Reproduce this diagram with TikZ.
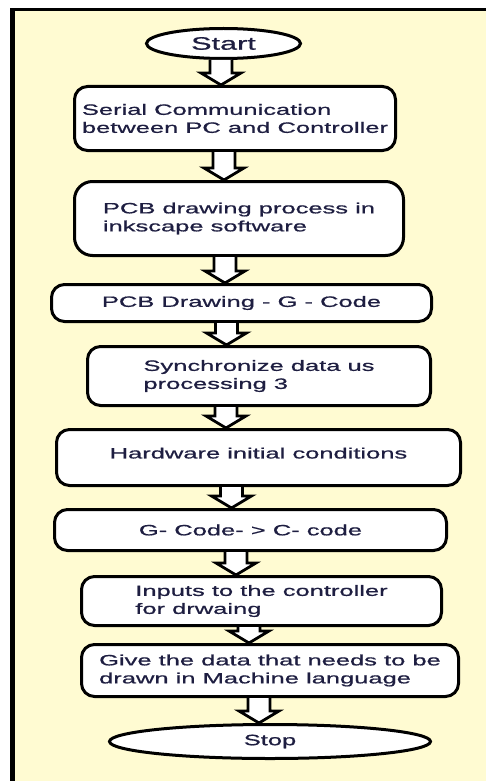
\documentclass[tikz,border=0pt]{standalone}
\usepackage{fontspec}
\setmainfont{Liberation Sans}
\newfontfamily\chartfont[FakeStretch=1.7,FakeBold=0.8]{Liberation Sans}
\usetikzlibrary{positioning,calc,shapes.geometric}
\definecolor{chartbg}{RGB}{255,251,210}
\definecolor{chartink}{RGB}{30,30,65}

\begin{document}
\begin{tikzpicture}[x=1pt,y=-1pt,
    box/.style={draw,fill=white,line width=3pt,rounded corners=13pt,inner sep=0pt,
        font=\chartfont\fontsize{15}{18}\selectfont,text=chartink,align=left},
    term/.style={box,ellipse,rounded corners=0pt},
    flow/.style={draw,fill=white,line width=2.8pt,line join=miter,
        to path={let \p1=(\tikztostart), \p2=(\tikztotarget) in
            (\x1-11pt,\y1) -- (\x1-11pt,\y2+12pt) -- (\x1-20pt,\y2+12pt) -- (\x1,\y2)
            -- (\x1+20pt,\y2+12pt) -- (\x1+11pt,\y2+12pt) -- (\x1+11pt,\y1)}}]
    \useasboundingbox (0,0) rectangle (486,781);
    % yellow sheet with its black edges
    \fill[chartbg] (15,11) rectangle (486,781);
    \fill (10,8) rectangle (15,781);
    \fill (10,8) rectangle (486,11);

    \node (start) [term,minimum width=154pt,minimum height=30pt,
        font=\chartfont\fontsize{18}{20}\selectfont] at (223.5,43.5) {Start};
    \node (serial) [box,below=25pt of start,xshift=11.5pt,minimum width=321pt,
        minimum height=64pt] {Serial Communication\\between PC and Controller};
    \node (inkscape) [box,below=28pt of serial,xshift=4pt,minimum width=329pt,
        minimum height=74pt,rounded corners=18pt] {PCB drawing process in\\inkscape software};
    \node (gcode) [box,below=26pt of inkscape,xshift=2.5pt,minimum width=380pt,
        minimum height=37pt] {PCB Drawing - G - Code};
    \node (sync) [box,below=22pt of gcode,xshift=17.5pt,minimum width=343pt,
        minimum height=59pt] {Synchronize data us\\processing 3};
    \node (hardware) [box,below=21pt of sync,xshift=-0.5pt,minimum width=404pt,
        minimum height=56pt,text depth=9pt] {Hardware initial conditions};
    \node (convert) [box,below=21pt of hardware,xshift=-8pt,minimum width=392pt,
        minimum height=41pt] {G- Code- > C- code};
    \node (inputs) [box,below=23pt of convert,xshift=11pt,minimum width=360pt,
        minimum height=49pt] {Inputs to the controller\\for drwaing};
    \node (give) [box,below=16pt of inputs,xshift=8.5pt,minimum width=377pt,
        minimum height=52pt] {Give the data that needs to be\\drawn in Machine language};
    \node (stop) [term,below=25pt of give,minimum width=321pt,minimum height=34pt] {Stop};

    \path
        ([xshift=-2.5pt]start.south) edge[flow] (serial.north)
        ([xshift=-11pt]serial.south) edge[flow] (inkscape.north)
        ([xshift=-14pt]inkscape.south) edge[flow] (gcode.north)
        ([xshift=-15pt]gcode.south) edge[flow] (sync.north)
        ([xshift=-33pt]sync.south) edge[flow] (hardware.north)
        ([xshift=-27pt]hardware.south) edge[flow] (convert.north)
        ([xshift=-14.5pt]convert.south) edge[flow] (inputs.north)
        ([xshift=-12.5pt]inputs.south) edge[flow] (give.north)
        ([xshift=-11pt]give.south) edge[flow] (stop.north);
\end{tikzpicture}
\end{document}
